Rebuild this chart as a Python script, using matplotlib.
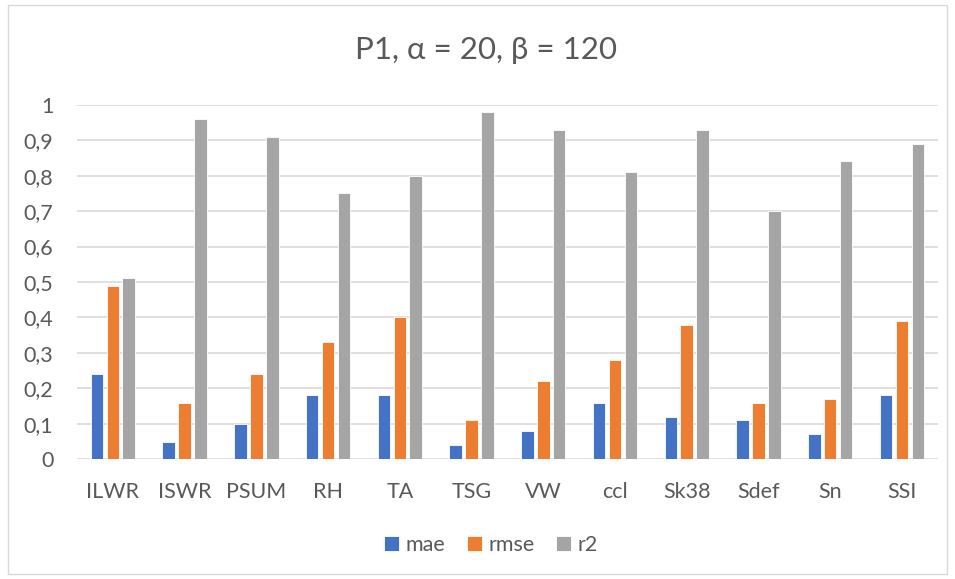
import numpy as np
import matplotlib
matplotlib.use("Agg")
import matplotlib.pyplot as plt
from matplotlib.patches import Rectangle
from matplotlib.ticker import FuncFormatter

plt.rcParams['font.family'] = ['Lato', 'DejaVu Sans']

categories = ["ILWR", "ISWR", "PSUM", "RH", "TA", "TSG", "VW", "ccl", "Sk38", "Sdef", "Sn", "SSI"]
mae = [0.24, 0.05, 0.10, 0.18, 0.18, 0.04, 0.08, 0.16, 0.12, 0.11, 0.07, 0.18]
rmse = [0.49, 0.16, 0.24, 0.33, 0.40, 0.11, 0.22, 0.28, 0.38, 0.16, 0.17, 0.39]
r2 = [0.51, 0.96, 0.91, 0.75, 0.80, 0.98, 0.93, 0.81, 0.93, 0.70, 0.84, 0.89]

series = [("mae", mae, "#4472C4"), ("rmse", rmse, "#ED7D31"), ("r2", r2, "#A5A5A5")]

fig = plt.figure(figsize=(9.55, 5.79), dpi=100)
ax = fig.add_axes([0.0806, 0.2067, 0.9014, 0.6125])

x = np.arange(len(categories))
w = 0.175
step = 0.222
for i, (name, vals, col) in enumerate(series):
    ax.bar(x + (i - 1) * step, vals, w, color=col, edgecolor="white", linewidth=0.6, label=name, zorder=3)

ax.set_xlim(-0.5, len(categories) - 0.5)
ax.set_ylim(0, 1)
ax.set_yticks(np.arange(0, 1.01, 0.1))
ax.yaxis.set_major_formatter(FuncFormatter(lambda v, p: ("%g" % round(v, 1)).replace(".", ",")))
ax.set_xticks(x)
ax.set_xticklabels(categories)
ax.grid(axis="y", color="#D9D9D9", linewidth=1.2, zorder=0)
for s in ["top", "right", "left", "bottom"]:
    ax.spines[s].set_visible(False)
ax.tick_params(axis="both", length=0, labelsize=15.5, labelcolor="#595959")
ax.tick_params(axis="y", pad=17)
ax.tick_params(axis="x", pad=16)

fig.text(0.509, 0.914, "P1, \u03b1 = 20, \u03b2 = 120", ha="center", va="center", fontsize=22.5, color="#595959")

fig.legend(loc="center", bbox_to_anchor=(0.514, 0.059), ncol=3, frameon=False, fontsize=15.5,
           handlelength=0.7, handleheight=0.7, handletextpad=0.3, columnspacing=1.0, labelcolor="#595959")

fig.patches.append(Rectangle((0.008, 0.008), 0.984, 0.984, transform=fig.transFigure,
                             fill=False, edgecolor="#D9D9D9", linewidth=1))

fig.savefig("out.png", dpi=100)
